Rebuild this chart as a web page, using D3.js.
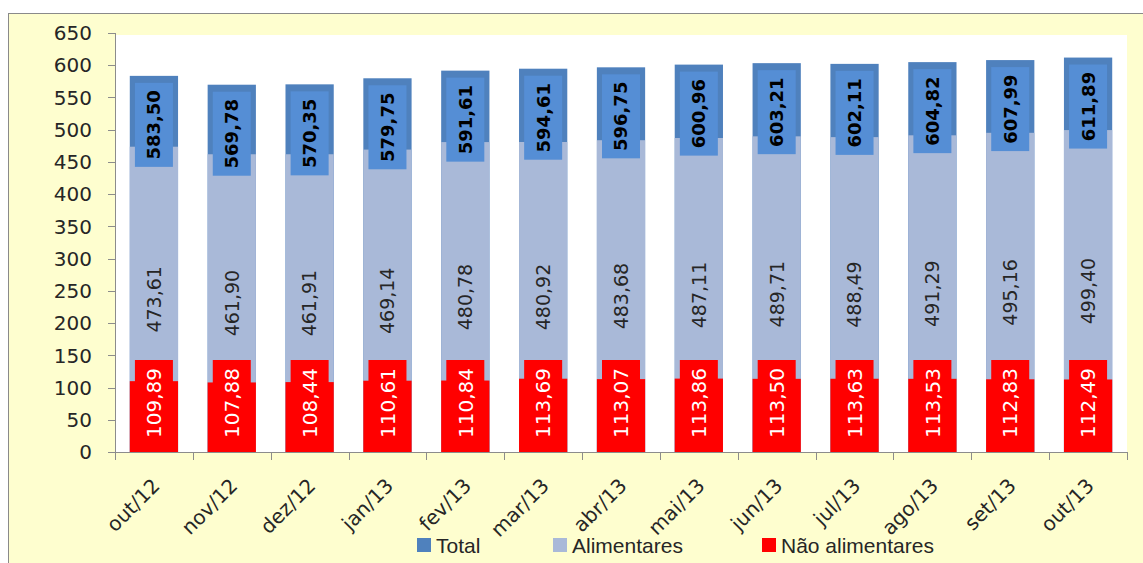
<!DOCTYPE html>
<html>
<head>
<meta charset="utf-8">
<title>Total, Alimentares e Não alimentares</title>
<script src="https://d3js.org/d3.v7.min.js"></script>
<style>
body { margin: 0; background: #fff; }
svg { display: block; }
.tick-y { font-family: "DejaVu Sans", sans-serif; font-size: 20px; fill: #262626; }
.tick-x { font-family: "DejaVu Sans", sans-serif; font-size: 20px; fill: #262626; }
.legend text { font-family: "Liberation Sans", Arial, sans-serif; font-size: 21px; fill: #262626; }
</style>
</head>
<body>
<script>
// valores
var months = ['out/12','nov/12','dez/12','jan/13','fev/13','mar/13','abr/13','mai/13','jun/13','jul/13','ago/13','set/13','out/13'];
var total = [583.50,569.78,570.35,579.75,591.61,594.61,596.75,600.96,603.21,602.11,604.82,607.99,611.89];
var alimentares = [473.61,461.90,461.91,469.14,480.78,480.92,483.68,487.11,489.71,488.49,491.29,495.16,499.40];
var naoAlimentares = [109.89,107.88,108.44,110.61,110.84,113.69,113.07,113.86,113.50,113.63,113.53,112.83,112.49];
var yTicks = [0,50,100,150,200,250,300,350,400,450,500,550,600,650];
var legendNames = ['Total','Alimentares','Não alimentares'];
var colors = ['#4f81bd','#a9b9d8','#ff0000'];

var width = 1143, height = 563;
var plot = {left: 115, right: 1127, top: 33, bottom: 452};

var fmt = d3.formatLocale({decimal: ',', thousands: '.', grouping: [3], currency: ['R$','']}).format('.2f');

var svg = d3.select('body').append('svg')
    .attr('width', width)
    .attr('height', height);

// moldura amarela
svg.append('rect')
    .attr('x', 8.5).attr('y', 13.5)
    .attr('width', 1200).attr('height', 600)
    .attr('fill', '#fefecf')
    .attr('stroke', '#8a8a8a');

var x = d3.scaleBand()
    .domain(months)
    .range([plot.left, plot.right])
    .paddingInner(0.38)
    .paddingOuter(0.19);

var y = d3.scaleLinear()
    .domain([0, 650])
    .range([plot.bottom, plot.top]);

svg.append('rect')
    .attr('x', plot.left).attr('y', y(650) + 2)
    .attr('width', plot.right - plot.left)
    .attr('height', y(0) - y(650) - 2)
    .attr('fill', '#fff');

var rows = months.map(function(m, i) {
    return {m: m, t: total[i], a: alimentares[i], n: naoAlimentares[i]};
});

var g = svg.selectAll('.cat').data(rows).enter().append('g').attr('class', 'cat');

// barras sobrepostas
g.append('rect')
    .attr('x', function(d){ return x(d.m); })
    .attr('y', function(d){ return y(d.t); })
    .attr('width', x.bandwidth())
    .attr('height', function(d){ return y(0) - y(d.t); })
    .attr('fill', colors[0]);

g.append('rect')
    .attr('x', function(d){ return x(d.m); })
    .attr('y', function(d){ return y(d.a); })
    .attr('width', x.bandwidth())
    .attr('height', function(d){ return y(0) - y(d.a); })
    .attr('fill', colors[1]);

g.append('rect')
    .attr('x', function(d){ return x(d.m); })
    .attr('y', function(d){ return y(d.n); })
    .attr('width', x.bandwidth())
    .attr('height', function(d){ return y(0) - y(d.n); })
    .attr('fill', colors[2]);

var boxW = 38, boxH = 84;
function cx(d){ return x(d.m) + x.bandwidth() / 2; }

// rotulos total
g.append('rect')
    .attr('x', function(d){ return cx(d) - boxW / 2; })
    .attr('y', function(d){ return y(d.t) + 7; })
    .attr('width', boxW).attr('height', boxH)
    .attr('fill', '#558ed5');
g.append('text')
    .attr('transform', function(d){ return 'translate(' + cx(d) + ',' + (y(d.t) + 7 + boxH / 2) + ') rotate(-90)'; })
    .attr('text-anchor', 'middle')
    .attr('dy', '0.36em')
    .style('font-family', '"DejaVu Sans", sans-serif')
    .style('font-size', '18px')
    .style('font-weight', 'bold')
    .attr('fill', '#000')
    .text(function(d){ return fmt(d.t); });

// rotulos alimentares
g.append('text')
    .attr('transform', function(d){ return 'translate(' + cx(d) + ',' + y(d.a / 2) + ') rotate(-90)'; })
    .attr('text-anchor', 'middle')
    .attr('dy', '0.36em')
    .style('font-family', '"DejaVu Sans", sans-serif')
    .style('font-size', '19px')
    .attr('fill', '#262626')
    .text(function(d){ return fmt(d.a); });

// rotulos nao alimentares (caixa presa acima do eixo)
function redMid(d){ return Math.min(y(d.n / 2), y(0) - 6 - boxH / 2 - 1); }
g.append('rect')
    .attr('x', function(d){ return cx(d) - boxW / 2; })
    .attr('y', function(d){ return redMid(d) - (boxH + 2) / 2; })
    .attr('width', boxW).attr('height', boxH + 2)
    .attr('fill', colors[2]);
g.append('text')
    .attr('transform', function(d){ return 'translate(' + cx(d) + ',' + redMid(d) + ') rotate(-90)'; })
    .attr('text-anchor', 'middle')
    .attr('dy', '0.36em')
    .style('font-family', '"DejaVu Sans", sans-serif')
    .style('font-size', '20px')
    .attr('fill', '#fff')
    .text(function(d){ return fmt(d.n); });

// eixo y
var axisColor = '#8c8c8c';
svg.append('line')
    .attr('x1', plot.left + 0.5).attr('x2', plot.left + 0.5)
    .attr('y1', y(650)).attr('y2', y(0))
    .attr('stroke', axisColor);
svg.selectAll('.ytick').data(yTicks).enter().append('line')
    .attr('x1', plot.left - 7).attr('x2', plot.left)
    .attr('y1', function(d){ return Math.round(y(d)) + 0.5; })
    .attr('y2', function(d){ return Math.round(y(d)) + 0.5; })
    .attr('stroke', axisColor);
svg.selectAll('.ylab').data(yTicks).enter().append('text')
    .attr('class', 'tick-y')
    .attr('x', plot.left - 23)
    .attr('y', function(d){ return y(d); })
    .attr('dy', '0.36em')
    .attr('text-anchor', 'end')
    .text(function(d){ return d; });

// eixo x
svg.append('line')
    .attr('x1', plot.left).attr('x2', plot.right)
    .attr('y1', y(0) + 0.5).attr('y2', y(0) + 0.5)
    .attr('stroke', axisColor);
var step = x.step();
var bounds = months.map(function(m){ return x(m) - x.paddingOuter() * step; });
bounds.push(plot.right);
svg.selectAll('.xtick').data(bounds).enter().append('line')
    .attr('x1', function(d){ return Math.round(d) + 0.5; })
    .attr('x2', function(d){ return Math.round(d) + 0.5; })
    .attr('y1', y(0)).attr('y2', y(0) + 8)
    .attr('stroke', axisColor);
svg.selectAll('.xlab').data(months).enter().append('text')
    .attr('class', 'tick-x')
    .attr('transform', function(m){ return 'translate(' + (x(m) + x.bandwidth() / 2 + 2) + ',' + (y(0) + 30) + ') rotate(-45)'; })
    .attr('text-anchor', 'end')
    .attr('dy', '0.36em')
    .text(function(m){ return m; });

// legenda
var legendX = [417, 553, 762];
var lg = svg.append('g').attr('class', 'legend')
    .selectAll('g').data(legendNames).enter().append('g')
    .attr('transform', function(d, i){ return 'translate(' + legendX[i] + ',538)'; });
lg.append('rect')
    .attr('width', 14).attr('height', 14)
    .attr('fill', function(d, i){ return colors[i]; });
lg.append('text')
    .attr('x', 19).attr('y', 7)
    .attr('dy', '0.36em')
    .text(function(d){ return d; });
</script>
</body>
</html>
